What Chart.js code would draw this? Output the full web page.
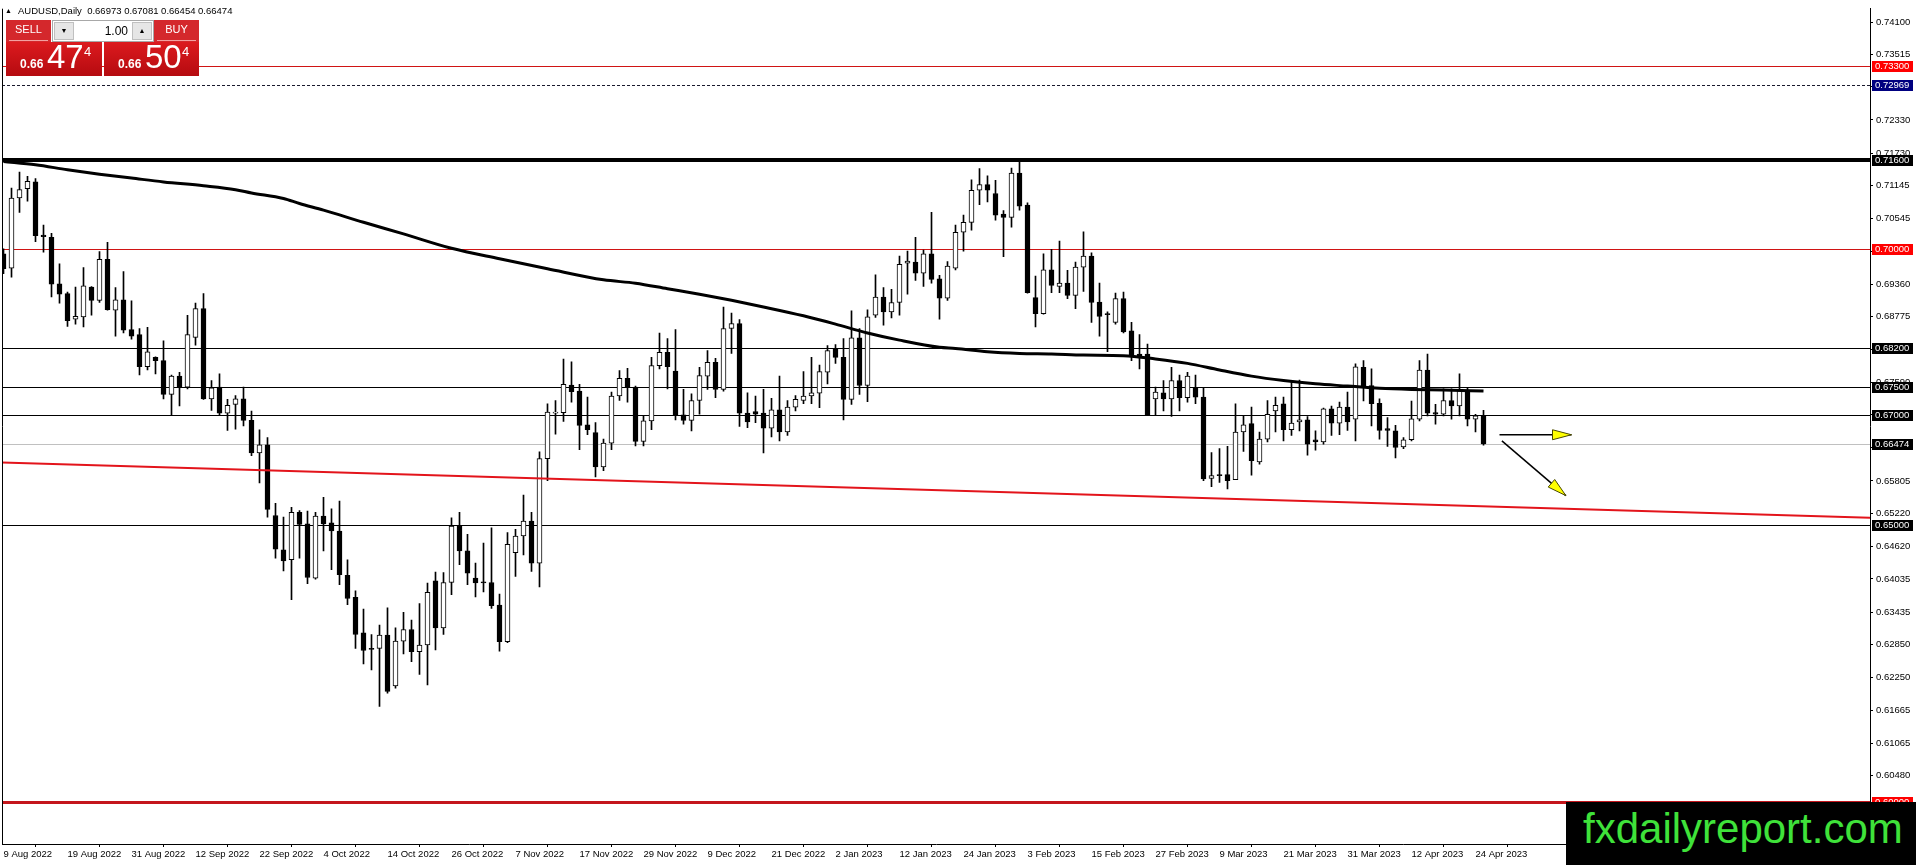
<!DOCTYPE html>
<html>
<head>
<meta charset="utf-8">
<title>AUDUSD Daily</title>
<script src="https://cdn.jsdelivr.net/npm/chart.js@4.4.0/dist/chart.umd.min.js"></script>
<style>
  html, body { margin: 0; padding: 0; background: #fff; overflow: hidden; }
  #wrap { position: relative; width: 1916px; height: 865px; font-family: "Liberation Sans", Arial, sans-serif; }
  #chart { position: absolute; left: 0; top: 0; }
  #hdr { position: absolute; left: 18px; top: 5px; font-size: 9.5px; line-height: 12px; color: #000; white-space: pre; }
  #tri { position: absolute; left: 5px; top: 6px; font-size: 7px; line-height: 10px; color: #000; }
  .abs { position: absolute; box-sizing: border-box; }
  .btn { top: 20px; width: 45px; height: 22px; background: #d4282c; color: #fff; font-size: 11px; line-height: 19px; text-align: center; }
  .btn i { position: absolute; left: 3px; right: 3px; bottom: 1px; height: 1px; background: #f3a0a0; }
  #spin { left: 52px; top: 20px; width: 102px; height: 22px; background: #fff; border: 1px solid #a8a8a8; }
  .arr { top: 1px; width: 20px; height: 18px; background: #e6e6e6; border: 1px solid #c0c0c0; font-size: 7px; line-height: 16px; text-align: center; color: #000; }
  #lot { right: 25px; top: 0; font-size: 12px; line-height: 20px; color: #000; }
  .px { top: 42px; height: 34px; background: linear-gradient(#dc1a1e, #b50b10); color: #fff; }
  .px span { position: absolute; line-height: 1; white-space: pre; }
  .px .s { left: 14px; top: 16px; font-size: 12px; font-weight: bold; }
  .px .b { left: 41px; top: -2px; font-size: 33px; }
  .px .u { left: 78px; top: 3px; font-size: 13px; }
  #wm { left: 1566px; top: 802px; width: 350px; height: 63px; background: #000; color: #3fe23a; font-size: 42px; line-height: 53px; padding-left: 17px; white-space: pre; }
</style>
</head>
<body>
<div id="wrap">
  <canvas id="chart" width="1916" height="865"></canvas>
  <div id="tri">▲</div>
  <div id="hdr"></div>
  <div class="abs btn" style="left:6px">SELL<i></i></div>
  <div class="abs" id="spin">
    <div class="abs arr" style="left:1px">▼</div>
    <div class="abs" id="lot">1.00</div>
    <div class="abs arr" style="right:1px">▲</div>
  </div>
  <div class="abs btn" style="left:154px">BUY<i></i></div>
  <div class="abs px" style="left:6px;width:96px"><span class="s">0.66</span><span class="b">47</span><span class="u">4</span></div>
  <div class="abs px" style="left:104px;width:95px"><span class="s">0.66</span><span class="b">50</span><span class="u">4</span></div>
  <div class="abs" id="wm">fxdailyreport.com</div>
</div>
<script>
// daily candles, bar 0 = 9 Aug 2022, last bar = 25 Apr 2023
const opens = [
  0.6991, 0.6965, 0.7092, 0.7109, 0.7121, 0.7025, 0.7021, 0.6937, 0.6919, 0.6873,
  0.6877, 0.6931, 0.6907, 0.6981, 0.6889, 0.6908, 0.6854, 0.6845, 0.6787, 0.6804,
  0.6798, 0.6737, 0.6770, 0.6750, 0.6840, 0.6892, 0.6729, 0.6750, 0.6703, 0.6719,
  0.6729, 0.6690, 0.6631, 0.6646, 0.6518, 0.6456, 0.6438, 0.6524, 0.6503, 0.6405,
  0.6517, 0.6505, 0.6490, 0.6410, 0.6370, 0.6306, 0.6278, 0.6278, 0.6302, 0.6210,
  0.6291, 0.6312, 0.6272, 0.6284, 0.6400, 0.6315, 0.6397, 0.6500, 0.6454, 0.6405,
  0.6398, 0.6397, 0.6356, 0.6290, 0.6451, 0.6481, 0.6508, 0.6432, 0.6621, 0.6703,
  0.6704, 0.6754, 0.6743, 0.6682, 0.6668, 0.6606, 0.6649, 0.6734, 0.6766, 0.6750,
  0.6652, 0.6689, 0.6789, 0.6813, 0.6779, 0.6700, 0.6690, 0.6726, 0.6770, 0.6795,
  0.6746, 0.6856, 0.6865, 0.6703, 0.6706, 0.6703, 0.6676, 0.6709, 0.6669, 0.6714,
  0.6726, 0.6734, 0.6739, 0.6777, 0.6819, 0.6804, 0.6728, 0.6839, 0.6753, 0.6880,
  0.6913, 0.6886, 0.6903, 0.6974, 0.6976, 0.6956, 0.6991, 0.6946, 0.6911, 0.6965,
  0.7030, 0.7048, 0.7106, 0.7116, 0.7100, 0.7063, 0.7057, 0.7137, 0.7079, 0.6912,
  0.6883, 0.6962, 0.6932, 0.6938, 0.6916, 0.6967, 0.6987, 0.6904, 0.6882, 0.6867,
  0.6910, 0.6852, 0.6810, 0.6810, 0.6729, 0.6740, 0.6729, 0.6762, 0.6731, 0.6749,
  0.6732, 0.6585, 0.6592, 0.6592, 0.6583, 0.6669, 0.6684, 0.6615, 0.6656, 0.6707,
  0.6720, 0.6673, 0.6687, 0.6691, 0.6655, 0.6651, 0.6711, 0.6685, 0.6714, 0.6692,
  0.6786, 0.6753, 0.6721, 0.6675, 0.6671, 0.6642, 0.6655, 0.6692, 0.6781, 0.6704,
  0.6701, 0.6726, 0.6716, 0.6744, 0.6692, 0.66973
];
const highs = [
  0.7000, 0.7110, 0.7139, 0.7131, 0.7127, 0.7043, 0.7028, 0.6973, 0.6922, 0.6931,
  0.6966, 0.6932, 0.6995, 0.7012, 0.6930, 0.6959, 0.6906, 0.6856, 0.6858, 0.6805,
  0.6834, 0.6772, 0.6777, 0.6880, 0.6902, 0.6919, 0.6762, 0.6774, 0.6728, 0.6735,
  0.6750, 0.6707, 0.6673, 0.6659, 0.6540, 0.6515, 0.6533, 0.6527, 0.6526, 0.6524,
  0.6551, 0.6530, 0.6544, 0.6438, 0.6382, 0.6349, 0.6303, 0.6320, 0.6351, 0.6315,
  0.6343, 0.6329, 0.6359, 0.6396, 0.6416, 0.6415, 0.6514, 0.6524, 0.6484, 0.6432,
  0.6468, 0.6496, 0.6376, 0.6487, 0.6493, 0.6555, 0.6524, 0.6633, 0.6720, 0.6726,
  0.6801, 0.6796, 0.6755, 0.6732, 0.6686, 0.6656, 0.6741, 0.6780, 0.6784, 0.6752,
  0.6699, 0.6804, 0.6848, 0.6838, 0.6854, 0.6746, 0.6738, 0.6786, 0.6816, 0.6802,
  0.6895, 0.6884, 0.6872, 0.6740, 0.6734, 0.6746, 0.6730, 0.6770, 0.6726, 0.6735,
  0.6778, 0.6804, 0.6790, 0.6825, 0.6827, 0.6838, 0.6888, 0.6856, 0.6890, 0.6953,
  0.6930, 0.6927, 0.6987, 0.6996, 0.7021, 0.6998, 0.7066, 0.6952, 0.6977, 0.7043,
  0.7061, 0.7125, 0.7145, 0.7132, 0.7124, 0.7069, 0.7146, 0.7157, 0.7083, 0.6951,
  0.6991, 0.6999, 0.7014, 0.6961, 0.6976, 0.7031, 0.6993, 0.6938, 0.6886, 0.6920,
  0.6922, 0.6867, 0.6845, 0.6828, 0.6750, 0.6762, 0.6786, 0.6772, 0.6777, 0.6772,
  0.6749, 0.6632, 0.6639, 0.6643, 0.6720, 0.6699, 0.6714, 0.6669, 0.6726, 0.6732,
  0.6732, 0.6762, 0.6763, 0.6697, 0.6671, 0.6712, 0.6716, 0.6723, 0.6741, 0.6792,
  0.6798, 0.6783, 0.6729, 0.6695, 0.6681, 0.6659, 0.6725, 0.6798, 0.6810, 0.6719,
  0.6747, 0.6747, 0.6774, 0.6749, 0.6701, 0.67081
];
const lows = [
  0.6955, 0.6949, 0.7066, 0.7086, 0.7013, 0.6994, 0.6913, 0.6902, 0.6860, 0.6864,
  0.6859, 0.6880, 0.6903, 0.6889, 0.6842, 0.6848, 0.6837, 0.6772, 0.6781, 0.6774,
  0.6729, 0.6700, 0.6716, 0.6747, 0.6826, 0.6728, 0.6708, 0.6699, 0.6672, 0.6674,
  0.6680, 0.6626, 0.6577, 0.6515, 0.6441, 0.6418, 0.6366, 0.6441, 0.6395, 0.6403,
  0.6454, 0.6420, 0.6393, 0.6357, 0.6278, 0.6250, 0.6239, 0.6173, 0.6197, 0.6206,
  0.6268, 0.6254, 0.6231, 0.6212, 0.6275, 0.6303, 0.6375, 0.6429, 0.6393, 0.6371,
  0.6380, 0.6350, 0.6273, 0.6288, 0.6408, 0.6447, 0.6417, 0.6389, 0.6581, 0.6665,
  0.6688, 0.6723, 0.6637, 0.6664, 0.6588, 0.6599, 0.6637, 0.6726, 0.6723, 0.6644,
  0.6644, 0.6673, 0.6783, 0.6747, 0.6691, 0.6683, 0.6671, 0.6701, 0.6746, 0.6731,
  0.6743, 0.6811, 0.6679, 0.6677, 0.6686, 0.6631, 0.6660, 0.6653, 0.6663, 0.6707,
  0.6720, 0.6720, 0.6713, 0.6756, 0.6793, 0.6691, 0.6719, 0.6737, 0.6724, 0.6876,
  0.6862, 0.6875, 0.6880, 0.6918, 0.6943, 0.6932, 0.6938, 0.6873, 0.6907, 0.6962,
  0.6996, 0.7034, 0.7080, 0.7085, 0.7052, 0.6986, 0.7039, 0.7070, 0.6920, 0.6859,
  0.6882, 0.6921, 0.6921, 0.6910, 0.6892, 0.6923, 0.6867, 0.6842, 0.6814, 0.6864,
  0.6848, 0.6798, 0.6783, 0.6720, 0.6700, 0.6707, 0.6697, 0.6707, 0.6723, 0.6720,
  0.6581, 0.6570, 0.6578, 0.6566, 0.6583, 0.6634, 0.6591, 0.6611, 0.6651, 0.6669,
  0.6653, 0.6663, 0.6671, 0.6627, 0.6636, 0.6647, 0.6663, 0.6664, 0.6672, 0.6653,
  0.6725, 0.6680, 0.6656, 0.6643, 0.6622, 0.6639, 0.6653, 0.6689, 0.6698, 0.6683,
  0.6698, 0.6692, 0.6698, 0.6680, 0.6669, 0.66454
];
const closes = [
  0.6964, 0.7092, 0.7107, 0.7122, 0.7024, 0.7022, 0.6936, 0.6918, 0.6870, 0.6878,
  0.6933, 0.6907, 0.6981, 0.6890, 0.6908, 0.6853, 0.6842, 0.6787, 0.6814, 0.6798,
  0.6737, 0.6770, 0.6750, 0.6845, 0.6892, 0.6729, 0.6749, 0.6703, 0.6717, 0.6729,
  0.6690, 0.6631, 0.6646, 0.6529, 0.6457, 0.6436, 0.6524, 0.6502, 0.6406, 0.6517,
  0.6503, 0.6490, 0.6411, 0.6368, 0.6303, 0.6274, 0.6276, 0.6302, 0.6200, 0.6291,
  0.6312, 0.6272, 0.6284, 0.6379, 0.6315, 0.6397, 0.6499, 0.6454, 0.6414, 0.6396,
  0.6396, 0.6355, 0.6290, 0.6466, 0.6481, 0.6508, 0.6432, 0.6621, 0.6705, 0.6704,
  0.6755, 0.6742, 0.6681, 0.6673, 0.6606, 0.6649, 0.6734, 0.6766, 0.6750, 0.6652,
  0.6689, 0.6789, 0.6813, 0.6787, 0.6700, 0.6690, 0.6726, 0.6771, 0.6795, 0.6746,
  0.6856, 0.6865, 0.6703, 0.6687, 0.6701, 0.6676, 0.6709, 0.6669, 0.6714, 0.6728,
  0.6734, 0.6740, 0.6778, 0.6816, 0.6804, 0.6728, 0.6839, 0.6753, 0.6877, 0.6913,
  0.6886, 0.6903, 0.6972, 0.6978, 0.6956, 0.6991, 0.6945, 0.6911, 0.6969, 0.7030,
  0.7048, 0.7106, 0.7116, 0.7106, 0.7061, 0.7057, 0.7137, 0.7077, 0.6921, 0.6883,
  0.6962, 0.6934, 0.6938, 0.6916, 0.6967, 0.6987, 0.6903, 0.6878, 0.6881, 0.6910,
  0.6850, 0.6805, 0.6804, 0.6700, 0.6741, 0.6729, 0.6762, 0.6731, 0.6770, 0.6732,
  0.6584, 0.6590, 0.6590, 0.6581, 0.6669, 0.6682, 0.6617, 0.6656, 0.6701, 0.6717,
  0.6673, 0.6685, 0.6691, 0.6647, 0.6651, 0.6711, 0.6685, 0.6714, 0.6687, 0.6787,
  0.6752, 0.6720, 0.6672, 0.6672, 0.6641, 0.6655, 0.6693, 0.6781, 0.6703, 0.6701,
  0.6726, 0.6716, 0.6744, 0.6692, 0.6698, 0.66474
];

// moving average read at these bars
const maBars = [0, 4, 8, 12, 16, 20, 25, 29, 31, 35, 37, 40, 45, 50, 56, 62, 68, 75, 79, 83,
  87, 91, 95, 100, 104, 108, 112, 117, 119, 123, 127, 131, 135, 140, 144, 148, 152, 156, 160, 164,
  168, 172, 176, 180, 185];
const maValues = [0.7158, 0.7152, 0.7143, 0.7135, 0.7128, 0.7121, 0.7114, 0.7107, 0.7101, 0.7091,
  0.7082, 0.7070, 0.7048, 0.7027, 0.7001, 0.6982, 0.6964, 0.6944, 0.6938, 0.6928,
  0.6918, 0.6907, 0.6895, 0.6879, 0.6864, 0.6848, 0.6835, 0.6822, 0.6820, 0.6814,
  0.6811, 0.6810, 0.6808, 0.6807, 0.6801, 0.6793, 0.6781, 0.6770, 0.6762, 0.6756,
  0.6752, 0.6748, 0.6746, 0.6745, 0.6743];

// red support trendline and the two forecast arrows
const trendBars = [-1, 234];
const trendValues = [0.66144, 0.65136];
const arrowFlatBars = [187.0, 196.0];
const arrowFlatValues = [0.6664, 0.6664];
const arrowDownBars = [187.3, 195.3];
const arrowDownValues = [0.6653, 0.6554];

// horizontal levels drawn on the chart
const levelPrices = [0.7330, 0.72969, 0.7160, 0.7000, 0.6820, 0.6750, 0.6700, 0.66474, 0.6500, 0.6000];
const levelStyles = [
  { color: '#d01414', width: 1 },
  { color: '#1a1a2e', width: 1, dash: [3, 2] },
  { color: '#000000', width: 4 },
  { color: '#d01414', width: 1 },
  { color: '#000000', width: 1 },
  { color: '#000000', width: 1 },
  { color: '#000000', width: 1 },
  { color: '#c0c0c0', width: 1 },
  { color: '#000000', width: 1 },
  { color: '#c4161c', width: 3 }
];
const levelBoxColors = ['#ff0000', '#000080', '#000000', '#ff0000', '#000000', '#000000', '#000000', '#000000', '#000000', '#ff0000'];

const yTicks = [0.74100, 0.73515, 0.72930, 0.72330, 0.71730, 0.71145, 0.70545, 0.69960, 0.69360, 0.68775,
  0.68175, 0.67590, 0.67005, 0.66405, 0.65805, 0.65220, 0.64620, 0.64035, 0.63435, 0.62850,
  0.62250, 0.61665, 0.61065, 0.60480, 0.59880];
const xTickBars = [0, 8, 16, 24, 32, 40, 48, 56, 64, 72, 80, 88, 96, 104, 112, 120, 128, 136, 144, 152, 160, 168, 176, 184];
const xTickLabels = ['9 Aug 2022', '19 Aug 2022', '31 Aug 2022', '12 Sep 2022', '22 Sep 2022', '4 Oct 2022',
  '14 Oct 2022', '26 Oct 2022', '7 Nov 2022', '17 Nov 2022', '29 Nov 2022', '9 Dec 2022',
  '21 Dec 2022', '2 Jan 2023', '12 Jan 2023', '24 Jan 2023', '3 Feb 2023', '15 Feb 2023',
  '27 Feb 2023', '9 Mar 2023', '21 Mar 2023', '31 Mar 2023', '12 Apr 2023', '24 Apr 2023'];

const X_MIN = -0.1875, X_MAX = 233.3125;
const Y_MIN = 0.59243, Y_MAX = 0.74341;

const last = closes.length - 1;
document.getElementById('hdr').textContent = 'AUDUSD,Daily  ' +
  [opens[last], highs[last], lows[last], closes[last]].map(v => v.toFixed(5)).join(' ');

Chart.defaults.font.family = '"Liberation Sans", Arial, sans-serif';

const pts = (xs, ys) => xs.map((x, i) => ({ x: x, y: ys[i] }));
const barIdx = opens.map((_, i) => i);

const chartPlugin = {
  id: 'mt4',
  beforeDatasetsDraw(chart) {
    const { ctx, chartArea: a, scales: { y } } = chart;
    ctx.save();
    levelPrices.forEach((p, i) => {
      const st = levelStyles[i];
      const py = y.getPixelForValue(p);
      const yy = st.width % 2 ? Math.round(py) + 0.5 : Math.round(py);
      ctx.beginPath();
      ctx.strokeStyle = st.color;
      ctx.lineWidth = st.width;
      ctx.setLineDash(st.dash || []);
      ctx.moveTo(a.left, yy);
      ctx.lineTo(a.right, yy);
      ctx.stroke();
    });
    ctx.restore();
  },
  afterDatasetsDraw(chart) {
    const ctx = chart.ctx;
    chart.data.datasets.forEach((ds, di) => {
      if (!ds.arrowHead) return;
      const el = chart.getDatasetMeta(di).data;
      const p1 = el[el.length - 2], p2 = el[el.length - 1];
      const ang = Math.atan2(p2.y - p1.y, p2.x - p1.x);
      const L = 19, W = 5;
      const bx = p2.x - L * Math.cos(ang), by = p2.y - L * Math.sin(ang);
      ctx.save();
      ctx.beginPath();
      ctx.moveTo(p2.x, p2.y);
      ctx.lineTo(bx + W * Math.sin(ang), by - W * Math.cos(ang));
      ctx.lineTo(bx - W * Math.sin(ang), by + W * Math.cos(ang));
      ctx.closePath();
      ctx.fillStyle = '#ffff00';
      ctx.fill();
      ctx.strokeStyle = '#4a4a00';
      ctx.lineWidth = 1;
      ctx.stroke();
      ctx.restore();
    });
  },
  afterDraw(chart) {
    const { ctx, chartArea: a, scales: { y } } = chart;
    ctx.save();
    // left frame line
    ctx.strokeStyle = '#000';
    ctx.lineWidth = 1;
    ctx.beginPath();
    ctx.moveTo(a.left + 0.5, a.top);
    ctx.lineTo(a.left + 0.5, a.bottom);
    ctx.stroke();
    // price boxes on the axis
    ctx.font = '9.5px "Liberation Sans", Arial, sans-serif';
    ctx.textBaseline = 'middle';
    levelPrices.forEach((p, i) => {
      const py = Math.round(y.getPixelForValue(p));
      ctx.fillStyle = levelBoxColors[i];
      ctx.fillRect(a.right + 2, py - 5, 41, 11);
      ctx.fillStyle = '#fff';
      ctx.fillText(p.toFixed(5), a.right + 5, py + 0.5);
    });
    ctx.restore();
  }
};

new Chart(document.getElementById('chart'), {
  type: 'bar',
  data: {
    datasets: [
      { type: 'line', data: pts(arrowFlatBars, arrowFlatValues), borderColor: '#000', borderWidth: 1.5, pointRadius: 0, arrowHead: true },
      { type: 'line', data: pts(arrowDownBars, arrowDownValues), borderColor: '#000', borderWidth: 1.5, pointRadius: 0, arrowHead: true },
      { type: 'line', data: pts(trendBars, trendValues), borderColor: '#e3141b', borderWidth: 2, pointRadius: 0 },
      { type: 'line', data: pts(maBars, maValues), borderColor: '#000', borderWidth: 3, pointRadius: 0, cubicInterpolationMode: 'monotone' },
      {
        data: barIdx.map(i => ({ x: i, y: [opens[i], closes[i]] })),
        backgroundColor: barIdx.map(i => closes[i] > opens[i] ? '#ffffff' : '#000000'),
        borderColor: '#000', borderWidth: 1, borderSkipped: false,
        barThickness: 5, maxBarThickness: 5, minBarLength: 1, grouped: false
      },
      {
        data: barIdx.map(i => ({ x: i, y: [lows[i], highs[i]] })),
        backgroundColor: '#000', borderWidth: 0,
        barThickness: 1, maxBarThickness: 1, grouped: false
      }
    ]
  },
  options: {
    responsive: false,
    animation: false,
    devicePixelRatio: 1,
    layout: { padding: { left: 2, top: 3, right: 0, bottom: 0 } },
    plugins: { legend: { display: false }, tooltip: { enabled: false } },
    scales: {
      x: {
        type: 'linear', min: X_MIN, max: X_MAX, offset: false,
        afterBuildTicks: s => { s.ticks = xTickBars.map(v => ({ value: v })); },
        afterFit: s => { s.height = 21; },
        ticks: {
          autoSkip: false, maxRotation: 0, minRotation: 0, align: 'start', padding: 2,
          color: '#000', font: { size: 9.5 },
          callback: (v, i) => xTickLabels[i]
        },
        grid: { display: true, drawOnChartArea: false, drawTicks: true, tickLength: 3, color: '#000' },
        border: { display: true, color: '#000' }
      },
      y: {
        type: 'linear', position: 'right', min: Y_MIN, max: Y_MAX,
        afterBuildTicks: s => { s.ticks = yTicks.map(v => ({ value: v })); },
        afterFit: s => { s.width = 46; },
        ticks: { padding: 3, color: '#000', font: { size: 9.5 }, callback: v => v.toFixed(5) },
        grid: { display: true, drawOnChartArea: false, drawTicks: true, tickLength: 3, color: '#000' },
        border: { display: true, color: '#000' }
      }
    }
  },
  plugins: [chartPlugin]
});
</script>
</body>
</html>
